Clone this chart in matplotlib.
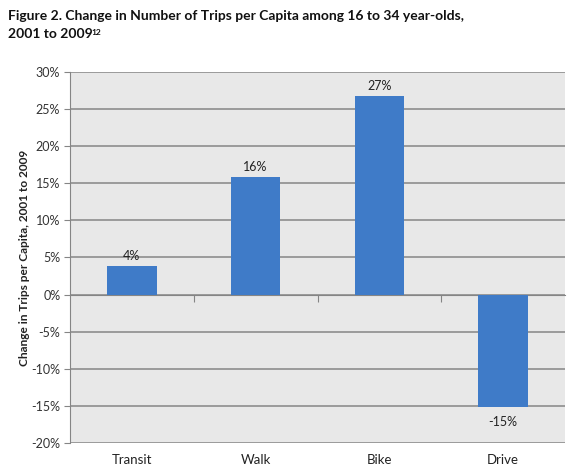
import matplotlib
matplotlib.use("Agg")
import matplotlib.pyplot as plt
import matplotlib.transforms as mtransforms
import numpy as np

categories = ["Transit", "Walk", "Bike", "Drive"]
values = [3.8, 15.8, 26.8, -15.2]
labels = ["4%", "16%", "27%", "-15%"]
yticks = [-20, -15, -10, -5, 0, 5, 10, 15, 20, 25, 30]

FONT = ["Lato", "DejaVu Sans"]
plt.rcParams["font.family"] = FONT

fig = plt.figure(figsize=(5.78, 4.73), dpi=100)
ax = fig.add_axes([70/578, 1-443/473, (565-70)/578, (443-72)/473])
ax.set_facecolor("#E8E8E8")

x = np.arange(len(categories))
ax.bar(x, values, width=0.4, color="#3F7BC8", zorder=3)

ax.set_xlim(-0.5, len(categories)-0.5)
ax.set_ylim(-20, 30)
ax.set_yticks(yticks)
ax.set_yticklabels([f"{t}%" for t in yticks], fontsize=9, color="#333333")
ax.yaxis.grid(True, color="#858585", linewidth=1.1, zorder=1)
ax.set_axisbelow(True)

for s in ["top", "right"]:
    ax.spines[s].set_visible(False)
ax.spines["left"].set_color("#858585")
ax.spines["bottom"].set_position(("data", 0))
ax.spines["bottom"].set_color("#858585")
ax.spines["bottom"].set_zorder(2)
ax.tick_params(axis="y", length=4, color="#858585", pad=3)

# category boundary ticks on the zero line
ax.set_xticks(np.arange(0.5, len(categories)-0.5, 1.0))
ax.set_xticklabels([])
ax.tick_params(axis="x", length=5, color="#858585", direction="out")
off = mtransforms.ScaledTranslation(0, -8/72, fig.dpi_scale_trans)
for i, c in enumerate(categories):
    ax.text(i, -20, c, transform=ax.transData + off, ha="center", va="top",
            fontsize=9.5, color="#222222")

for i, (v, l) in enumerate(zip(values, labels)):
    if v >= 0:
        ax.annotate(l, (i, v), xytext=(0, 3), textcoords="offset points",
                    ha="center", va="bottom", fontsize=9, color="#222222")
    else:
        ax.annotate(l, (i, v), xytext=(0, -6), textcoords="offset points",
                    ha="center", va="top", fontsize=9, color="#222222")

ax.set_ylabel("Change in Trips per Capita, 2001 to 2009", fontsize=8.6,
              fontweight="bold", color="#222222", labelpad=1)

fig.text(8/578, 1-10/473, "Figure 2. Change in Number of Trips per Capita among 16 to 34 year-olds,",
         fontsize=10, fontweight="bold", ha="left", va="top", color="#111111")
t2 = fig.text(8/578, 1-28/473, "2001 to 2009",
              fontsize=10, fontweight="bold", ha="left", va="top", color="#111111")
fig.canvas.draw()
bb = t2.get_window_extent()
fig.text((bb.x1 - 1)/578, (bb.y1 - 1)/473, "12", fontsize=6, fontweight="bold",
         ha="left", va="top", color="#111111")

fig.savefig("out.png", dpi=100)
